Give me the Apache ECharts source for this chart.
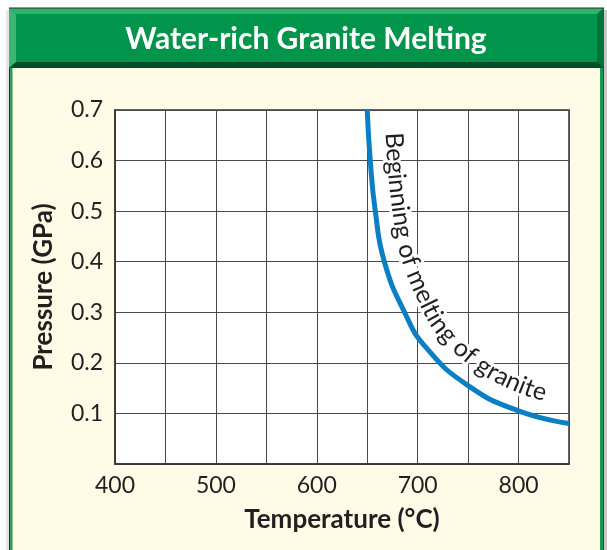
<!DOCTYPE html>
<html><head><meta charset="utf-8">
<script src="https://cdn.jsdelivr.net/npm/echarts@6/dist/echarts.min.js"></script>
<style>html,body{margin:0;padding:0;background:#fff}#c{width:607px;height:550px}</style>
</head><body><div id="c"></div>
<script>
const chartTitle = 'Water-rich Granite Melting';
const xAxisName = 'Temperature (°C)';
const yAxisName = 'Pressure (GPa)';
const curveLabel = 'Beginning of melting of granite';
const xTickLabels = [400, 500, 600, 700, 800];
const yTickLabels = [0.1, 0.2, 0.3, 0.4, 0.5, 0.6, 0.7];
const temperature = [650, 653, 658, 667, 687, 708, 750, 800, 850];
const pressure = [0.7, 0.6, 0.5, 0.4, 0.3, 0.231, 0.155, 0.105, 0.080];

const FONT = 'Lato, "Open Sans", sans-serif';
const TXT = '#231f20';
const chart = echarts.init(document.getElementById('c'), null, {renderer: 'canvas'});

const frame = [
  {type: 'rect', z: -10, shape: {x: 12, y: 68, width: 588, height: 482}, style: {fill: '#fffbe7'}},
  {type: 'rect', z: -9, shape: {x: 6, y: 10, width: 3, height: 540}, style: {fill: '#e6e6e6'}},
  {type: 'rect', z: -9, shape: {x: 9, y: 8, width: 1.5, height: 542}, style: {fill: '#2b2b2b'}},
  {type: 'rect', z: -9, shape: {x: 10.5, y: 8, width: 2, height: 542}, style: {fill: '#12a24f'}},
  {type: 'rect', z: -9, shape: {x: 600, y: 8, width: 3, height: 542}, style: {fill: '#12a24f'}},
  {type: 'rect', z: -9, shape: {x: 603, y: 8, width: 1, height: 542}, style: {fill: '#3a3a3a'}},
  {type: 'rect', z: -9, shape: {x: 604, y: 10, width: 3, height: 540}, style: {fill: '#c8c8c8'}},
  {type: 'rect', z: -8, shape: {x: 9, y: 8, width: 595, height: 60}, style: {fill: '#00954a'}},
  {type: 'polygon', z: -7, shape: {points: [[9, 8], [604, 8], [597, 14], [16, 14]]}, style: {fill: '#2cb46c'}},
  {type: 'polygon', z: -7, shape: {points: [[9, 8], [16, 14], [16, 62], [9, 68]]}, style: {fill: '#39b874'}},
  {type: 'polygon', z: -7, shape: {points: [[604, 8], [604, 68], [597, 62], [597, 14]]}, style: {fill: '#007438'}},
  {type: 'polygon', z: -7, shape: {points: [[9, 68], [16, 62], [597, 62], [604, 68]]}, style: {fill: '#004f29'}},
  {type: 'rect', z: -6, shape: {x: 9, y: 7.5, width: 595, height: 1}, style: {fill: '#2b2b2b'}},
  {type: 'text', z: 5, x: 306, y: 39, style: {text: chartTitle, fill: '#ffffff', font: 'bold 30px ' + FONT, textAlign: 'center', textVerticalAlign: 'middle'}}
];

const option = {
  animation: false,
  backgroundColor: '#ffffff',
  grid: {left: 115, top: 110, right: 38, bottom: 86, show: true, backgroundColor: '#ffffff', borderColor: '#333333', borderWidth: 1.5, containLabel: false},
  xAxis: {
    type: 'value', min: 400, max: 850, interval: 50,
    name: xAxisName, nameLocation: 'middle', nameGap: 43,
    nameTextStyle: {fontFamily: FONT, fontWeight: 'bold', fontSize: 26, color: TXT},
    axisLine: {show: true, lineStyle: {color: '#333333', width: 1.5}},
    axisTick: {show: false},
    splitLine: {show: true, lineStyle: {color: '#4a4a4a', width: 1}},
    axisLabel: {show: true, margin: 10, fontFamily: FONT, fontSize: 23, color: TXT,
      formatter: v => xTickLabels.some(t => Math.abs(t - v) < 1e-6) ? String(v) : ''}
  },
  yAxis: {
    type: 'value', min: 0, max: 0.7, interval: 0.1,
    name: yAxisName, nameLocation: 'middle', nameGap: 58, nameRotate: 90,
    nameTextStyle: {fontFamily: FONT, fontWeight: 'bold', fontSize: 26, color: TXT},
    axisLine: {show: true, lineStyle: {color: '#333333', width: 1.5}},
    axisTick: {show: false},
    splitLine: {show: true, lineStyle: {color: '#4a4a4a', width: 1}},
    axisLabel: {show: true, margin: 12, fontFamily: FONT, fontSize: 23, color: TXT,
      formatter: v => yTickLabels.some(t => Math.abs(t - v) < 1e-6) ? v.toFixed(1) : ''}
  },
  series: [{
    type: 'line', data: temperature.map((t, i) => [t, pressure[i]]),
    smooth: 0.5, showSymbol: false, symbol: 'none',
    lineStyle: {color: '#0b7fc4', width: 5}, z: 3
  }],
  graphic: frame
};
chart.setOption(option);

// Curved label along the curve (positions from the chart's own scales)
function buildCurveText() {
  const pts = temperature.map((t, i) => chart.convertToPixel({gridIndex: 0}, [t, pressure[i]]));
  const samples = [];
  for (let i = 0; i < pts.length - 1; i++) {
    const p0 = pts[i - 1] || pts[i], p1 = pts[i], p2 = pts[i + 1], p3 = pts[i + 2] || pts[i + 1];
    for (let k = 0; k < 30; k++) {
      const t = k / 30, t2 = t * t, t3 = t2 * t;
      const f = (a, b, c, d) => 0.5 * ((2 * b) + (-a + c) * t + (2 * a - 5 * b + 4 * c - d) * t2 + (-a + 3 * b - 3 * c + d) * t3);
      samples.push([f(p0[0], p1[0], p2[0], p3[0]), f(p0[1], p1[1], p2[1], p3[1])]);
    }
  }
  samples.push(pts[pts.length - 1]);
  const OFF = 25;
  const off = samples.map((p, i) => {
    const a = samples[Math.max(0, i - 3)], b = samples[Math.min(samples.length - 1, i + 3)];
    let dx = b[0] - a[0], dy = b[1] - a[1];
    const L = Math.hypot(dx, dy) || 1; dx /= L; dy /= L;
    return [p[0] + dy * OFF, p[1] - dx * OFF];
  });
  const cum = [0];
  for (let i = 1; i < off.length; i++) cum.push(cum[i - 1] + Math.hypot(off[i][0] - off[i - 1][0], off[i][1] - off[i - 1][1]));
  function at(s) {
    let i = 1;
    while (i < cum.length - 1 && cum[i] < s) i++;
    const a = off[i - 1], b = off[i];
    const seg = cum[i] - cum[i - 1] || 1;
    const u = (s - cum[i - 1]) / seg;
    return {x: a[0] + (b[0] - a[0]) * u, y: a[1] + (b[1] - a[1]) * u, ang: Math.atan2(b[1] - a[1], b[0] - a[0])};
  }
  let s0 = 0;
  for (let i = 0; i < off.length; i++) { if (off[i][1] >= 131) { s0 = cum[i]; break; } }
  const fontSize = 25;
  const font = fontSize + 'px ' + FONT;
  const ctx = document.createElement('canvas').getContext('2d');
  ctx.font = font;
  const els = [];
  let acc = 0;
  for (const ch of curveLabel) {
    const w = ctx.measureText(ch).width * 0.97;
    const p = at(s0 + acc + w / 2);
    acc += w;
    if (ch === ' ') continue;
    els.push({type: 'text', z: 20, x: p.x, y: p.y, rotation: -p.ang,
      style: {text: ch, font: font, fill: '#ffffff', stroke: '#ffffff', lineWidth: 6, textAlign: 'center', textVerticalAlign: 'middle'}});
    els.push({type: 'text', z: 21, x: p.x, y: p.y, rotation: -p.ang,
      style: {text: ch, font: font, fill: TXT, textAlign: 'center', textVerticalAlign: 'middle'}});
  }
  chart.setOption({graphic: frame.concat(els)});
}
buildCurveText();
</script>
</body></html>
